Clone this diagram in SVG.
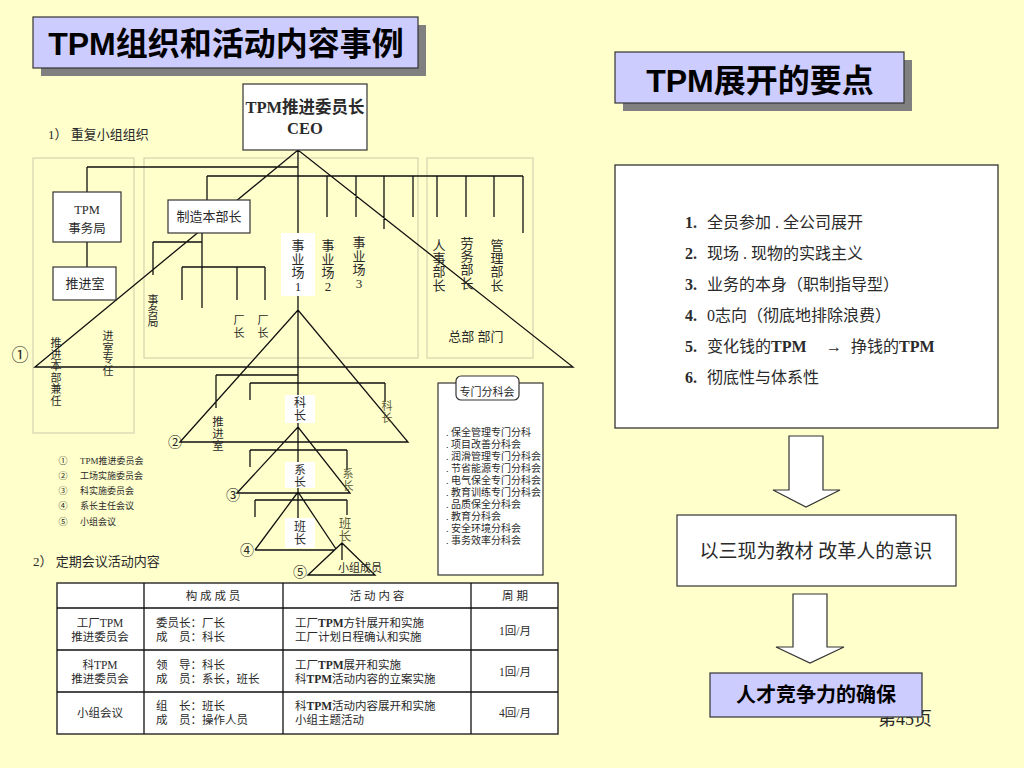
<svg xmlns="http://www.w3.org/2000/svg" width="1024" height="768" viewBox="0 0 1024 768">
<defs>
<style>
.s{font-family:"Liberation Serif","Noto Sans CJK SC",serif;fill:#2a2a2a}
.h{font-family:"Liberation Sans","Noto Sans CJK SC",sans-serif;font-weight:bold;fill:#000}
.ln{stroke:#111;stroke-width:1.3;fill:none}
.gb{fill:none;stroke:#d6d3b0;stroke-width:1.2}
.wb{fill:#fff;stroke:#333;stroke-width:1.2}
.wh{fill:#fff}
.m{text-anchor:middle}
.ol{fill:#5a5a3a}
.sh{fill:#808080}
.lav{fill:#CCCCFF;stroke:#333;stroke-width:1.2}
.ar{fill:#fff;stroke:#333;stroke-width:1.2}
.b{font-weight:bold}
</style>
</defs>
<rect width="1024" height="768" fill="#FFFFCC"/>

<g id="title-left">
<rect class="sh" x="41" y="25" width="385" height="51"/>
<rect class="lav" x="33" y="17" width="385" height="51"/>
<text class="h m" x="226" y="55" font-size="32">TPM组织和活动内容事例</text>
</g>
<g id="title-right">
<rect class="sh" x="623" y="60" width="289" height="51"/>
<rect class="lav" x="615" y="52" width="289" height="51"/>
<text class="h m" x="760" y="92" font-size="32">TPM展开的要点</text>
</g>

<text class="s" x="48" y="139" font-size="13">1）  重复小组组织</text>

<g id="group-boxes">
<rect class="gb" x="33" y="158" width="101" height="275"/>
<rect class="gb" x="144" y="158" width="274" height="200"/>
<rect class="gb" x="427" y="158" width="106" height="200"/>
</g>

<g id="connectors">
<path class="ln" d="M298,150V548 M87,167H298 M87,167V192 M207,176H523 M207,176V200
M327,176V217 M356,176V217 M384,176V229 M413,176V217 M437,176V217 M466,176V217 M494,176V217 M523,176V233
M35,367L298,150L573,367Z
M87,242V267
M202,233V308 M153,242H202 M153,242V275 M182,267H265 M182,267V300 M237,267V300 M265,267V300
M180,442L298,310L408,442Z
M216,375H298 M216,375V408 M250,383H385 M250,383V400 M385,383V402
M237,493L298,427L350,493Z
M250,450H347 M250,450V467 M347,450V470
M255,550L298,492L336,549 M255,550H335
M255,500H347 M255,500V517 M347,500V515
M308,575L342,543L375,575Z M342,543V560"/>
</g>

<g id="ceo">
<rect class="wb" x="243" y="84" width="124" height="66"/>
<text class="s m b" x="305" y="113" font-size="16.5" fill="#000">TPM推进委员长</text>
<text class="s m b" x="305" y="134" font-size="16.5" fill="#000">CEO</text>
</g>

<g id="tpm-office">
<rect class="wb" x="53" y="192" width="68" height="50"/>
<text class="s m" x="87" y="214" font-size="12.5">TPM</text>
<text class="s m" x="87" y="233" font-size="12.5">事务局</text>
</g>
<g id="promo-room">
<rect class="wb" x="53" y="267" width="63" height="33"/>
<text class="s m" x="85" y="288" font-size="13">推进室</text>
</g>
<g id="mfg-head">
<rect class="wb" x="168" y="200" width="82" height="33"/>
<text class="s m" x="209" y="221" font-size="13">制造本部长</text>
</g>

<g id="left-vertical-labels" class="s m" font-size="11">
<text x="56" y="347"><tspan x="56">推</tspan><tspan x="56" dy="11.6">进</tspan><tspan x="56" dy="11.6">本</tspan><tspan x="56" dy="11.6">部</tspan><tspan x="56" dy="11.6">兼</tspan><tspan x="56" dy="11.6">任</tspan></text>
<text x="108" y="340"><tspan x="108">进</tspan><tspan x="108" dy="11.6">室</tspan><tspan x="108" dy="11.6">专</tspan><tspan x="108" dy="11.6">任</tspan></text>
</g>
<g id="mfg-sub" class="s m" font-size="11">
<text x="153" y="304"><tspan x="153">事</tspan><tspan x="153" dy="11.2">务</tspan><tspan x="153" dy="11.2">局</tspan></text>
<text x="239" y="324"><tspan x="239">厂</tspan><tspan x="239" dy="13">长</tspan></text>
<text x="263" y="324"><tspan x="263">厂</tspan><tspan x="263" dy="13">长</tspan></text>
</g>

<g id="site1">
<rect class="wh" x="281" y="233" width="34" height="63"/>
<text class="s m" x="298" y="250" font-size="13"><tspan x="298">事</tspan><tspan x="298" dy="13.5">业</tspan><tspan x="298" dy="13.5">场</tspan><tspan x="298" dy="13.5">1</tspan></text>
</g>
<g id="site2"><text class="s m" x="328" y="250" font-size="13"><tspan x="328">事</tspan><tspan x="328" dy="13.5">业</tspan><tspan x="328" dy="13.5">场</tspan><tspan x="328" dy="13.5">2</tspan></text></g>
<g id="site3"><text class="s m" x="359" y="247" font-size="13"><tspan x="359">事</tspan><tspan x="359" dy="13.5">业</tspan><tspan x="359" dy="13.5">场</tspan><tspan x="359" dy="13.5">3</tspan></text></g>
<g id="hq" class="s m" font-size="13">
<text x="439" y="250"><tspan x="439">人</tspan><tspan x="439" dy="13.2">事</tspan><tspan x="439" dy="13.2">部</tspan><tspan x="439" dy="13.2">长</tspan></text>
<text x="467" y="248"><tspan x="467">劳</tspan><tspan x="467" dy="13.2">务</tspan><tspan x="467" dy="13.2">部</tspan><tspan x="467" dy="13.2">长</tspan></text>
<text x="497" y="250"><tspan x="497">管</tspan><tspan x="497" dy="13.2">理</tspan><tspan x="497" dy="13.2">部</tspan><tspan x="497" dy="13.2">长</tspan></text>
<text x="476" y="341">总部 部门</text>
</g>

<g id="circle-labels" class="s m" font-size="14">
<text x="20" y="361" font-size="17">①</text>
<text x="175" y="447">②</text>
<text x="233" y="500">③</text>
<text x="247" y="555">④</text>
<text x="300" y="577">⑤</text>
</g>

<g id="section-chief">
<rect class="wh" x="285" y="395" width="30" height="28"/>
<text class="s m" x="300" y="407" font-size="12"><tspan x="300">科</tspan><tspan x="300" dy="13">长</tspan></text>
</g>
<g id="subsection-chief">
<rect class="wh" x="285" y="462" width="30" height="26"/>
<text class="s m" x="300" y="474" font-size="11.5"><tspan x="300">系</tspan><tspan x="300" dy="12">长</tspan></text>
</g>
<g id="team-leader">
<rect class="wh" x="285" y="518" width="30" height="30"/>
<text class="s m" x="300" y="531" font-size="12"><tspan x="300">班</tspan><tspan x="300" dy="13">长</tspan></text>
</g>
<g id="right-labels" class="s m ol" font-size="11">
<text x="387" y="410" class="ol"><tspan x="387">科</tspan><tspan x="387" dy="12">长</tspan></text>
<text x="348" y="478" class="ol"><tspan x="348">系</tspan><tspan x="348" dy="12">长</tspan></text>
<text x="345" y="528" class="ol" font-size="12.5"><tspan x="345">班</tspan><tspan x="345" dy="13">长</tspan></text>
</g>
<g id="promo-room-2"><text class="s m" x="218" y="426" font-size="11.5"><tspan x="218">推</tspan><tspan x="218" dy="12">进</tspan><tspan x="218" dy="12">室</tspan></text></g>
<g id="members"><text class="s m" x="360" y="572" font-size="11">小组成员</text></g>

<g id="legend" class="s" font-size="9" fill="#333">
<text x="63" y="464" class="m">①</text><text x="80" y="464">TPM推进委员会</text>
<text x="63" y="479" class="m">②</text><text x="80" y="479">工场实施委员会</text>
<text x="63" y="494" class="m">③</text><text x="80" y="494">科实施委员会</text>
<text x="63" y="509" class="m">④</text><text x="80" y="509">系长主任会议</text>
<text x="63" y="525" class="m">⑤</text><text x="80" y="525">小组会议</text>
</g>

<g id="special-committee">
<rect class="wb" x="438" y="383" width="105" height="192"/>
<rect class="wb" x="456" y="376" width="63" height="24" rx="5"/>
<text class="s m" x="487" y="396" font-size="11">专门分科会</text>
<g class="s" font-size="10">
<text x="446" y="436">. 保全管理专门分科</text>
<text x="446" y="448">. 项目改善分科会</text>
<text x="446" y="460">. 润滑管理专门分科会</text>
<text x="446" y="472">. 节省能源专门分科会</text>
<text x="446" y="484">. 电气保全专门分科会</text>
<text x="446" y="496">. 教育训练专门分科会</text>
<text x="446" y="508">. 品质保全分科会</text>
<text x="446" y="520">. 教育分科会</text>
<text x="446" y="532">. 安全环境分科会</text>
<text x="446" y="544">. 事务效率分科会</text>
</g>
</g>

<text class="s" x="33" y="566" font-size="13">2） 定期会议活动内容</text>

<g id="table">
<rect x="57" y="583" width="501" height="151" fill="#fff" stroke="#333" stroke-width="1.5"/>
<path class="ln" d="M144,583V734 M283,583V734 M471,583V734 M57,608H558 M57,650H558 M57,692H558"/>
<g class="s" font-size="11.5">
<text class="m" x="213" y="600">构 成 成 员</text>
<text class="m" x="377" y="600">活 动 内 容</text>
<text class="m" x="515" y="600">周  期</text>
<text class="m" x="100" y="627">工厂TPM</text>
<text class="m" x="100" y="641">推进委员会</text>
<text x="156" y="627">委员长：厂长</text>
<text x="156" y="641">成　员：科长</text>
<text x="295" y="627">工厂<tspan class="b">TPM</tspan>方针展开和实施</text>
<text x="295" y="641">工厂计划日程确认和实施</text>
<text class="m" x="515" y="635">1回/月</text>
<text class="m" x="100" y="669">科TPM</text>
<text class="m" x="100" y="683">推进委员会</text>
<text x="156" y="669">领　导：科长</text>
<text x="156" y="683">成　员：系长，班长</text>
<text x="295" y="669">工厂<tspan class="b">TPM</tspan>展开和实施</text>
<text x="295" y="683">科<tspan class="b">TPM</tspan>活动内容的立案实施</text>
<text class="m" x="515" y="676">1回/月</text>
<text class="m" x="100" y="717">小组会议</text>
<text x="156" y="710">组　长：班长</text>
<text x="156" y="724">成　员：操作人员</text>
<text x="295" y="710">科<tspan class="b">TPM</tspan>活动内容展开和实施</text>
<text x="295" y="724">小组主题活动</text>
<text class="m" x="515" y="717">4回/月</text>
</g>
</g>

<g id="key-points">
<rect x="615" y="165" width="383" height="263" fill="#fff" stroke="#333" stroke-width="1.3"/>
<g class="s" font-size="16" fill="#111">
<text x="685" y="228"><tspan class="b">1.</tspan></text><text x="707" y="228">全员参加 . 全公司展开</text>
<text x="685" y="259"><tspan class="b">2.</tspan></text><text x="707" y="259">现场 . 现物的实践主义</text>
<text x="685" y="290"><tspan class="b">3.</tspan></text><text x="707" y="290">业务的本身（职制指导型）</text>
<text x="685" y="321"><tspan class="b">4.</tspan></text><text x="707" y="321">0志向（彻底地排除浪费）</text>
<text x="685" y="352"><tspan class="b">5.</tspan></text><text x="707" y="352">变化钱的<tspan class="b">TPM</tspan></text>
<text x="826" y="352">→</text>
<text x="851" y="352">挣钱的<tspan class="b">TPM</tspan></text>
<text x="685" y="383"><tspan class="b">6.</tspan></text><text x="707" y="383">彻底性与体系性</text>
</g>
</g>

<g id="arrow-1"><polygon class="ar" points="789,436 823,436 823,490 840,490 806,507 773,490 789,490"/></g>
<g id="reform-box">
<rect class="wb" x="677" y="515" width="279" height="71"/>
<text class="s m" x="816" y="558" font-size="19" fill="#111">以三现为教材 改革人的意识</text>
</g>
<g id="arrow-2"><polygon class="ar" points="793,594 827,594 827,647 844,647 810,663 776,647 793,647"/></g>
<text class="s" x="878" y="725" font-size="18" fill="#111">第45页</text>
<g id="talent-box">
<rect class="lav" x="710" y="673" width="212" height="44"/>
<text class="h m" x="816" y="702" font-size="20">人才竞争力的确保</text>
</g>
</svg>
